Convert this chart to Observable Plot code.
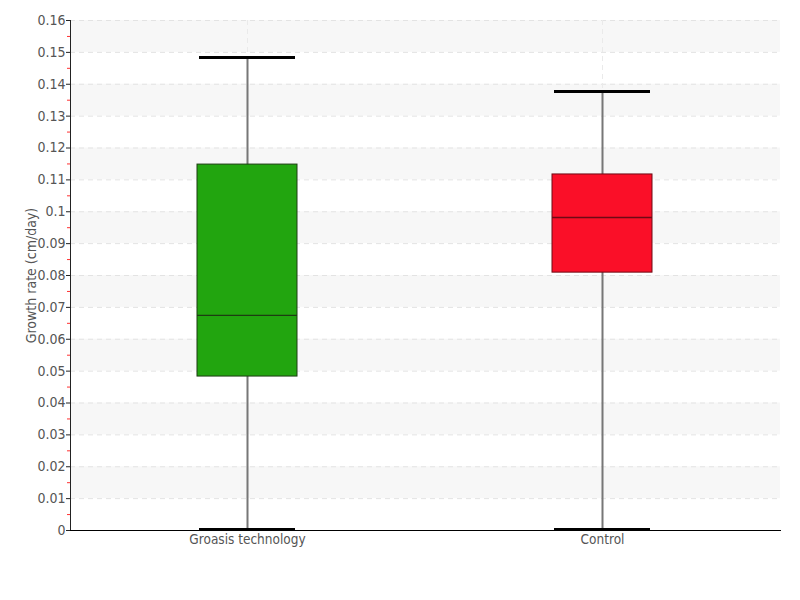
<!DOCTYPE html>
<html>
<head>
<meta charset="utf-8">
<script src="https://cdn.jsdelivr.net/npm/d3@7"></script>
<script src="https://cdn.jsdelivr.net/npm/@observablehq/plot@0.6"></script>
<style>
  html, body { margin: 0; padding: 0; background: #fff; }
  #chart svg { font-family: "DejaVu Sans Condensed", "Liberation Sans Narrow", sans-serif; }
</style>
</head>
<body>
<div id="chart"></div>
<script>
const groups = ["Groasis technology", "Control"];
const whiskerLow = [0.0003, 0.0003];
const q1 = [0.0483, 0.0809];
const median = [0.0675, 0.0982];
const q3 = [0.1148, 0.1117];
const whiskerHigh = [0.1484, 0.1377];
const fills = ["#22a50f", "#fa0f28"];
const outlines = ["#1d3d12", "#6e0a14"];
const yTicks = [0, 0.01, 0.02, 0.03, 0.04, 0.05, 0.06, 0.07, 0.08, 0.09, 0.1, 0.11, 0.12, 0.13, 0.14, 0.15, 0.16];
const yMinorTicks = [0.005, 0.015, 0.025, 0.035, 0.045, 0.055, 0.065, 0.075, 0.085, 0.095, 0.105, 0.115, 0.125, 0.135, 0.145, 0.155];

const data = groups.map((g, i) => ({
  group: g, low: whiskerLow[i], q1: q1[i], median: median[i], q3: q3[i], high: whiskerHigh[i],
  fill: fills[i], outline: outlines[i]
}));
// alternating shaded bands: [0.01,0.02], [0.03,0.04], ...
const bands = [];
for (let i = 1; i + 1 < yTicks.length; i += 2) bands.push({y1: yTicks[i], y2: yTicks[i + 1]});

const chart = Plot.plot({
  width: 800,
  height: 600,
  marginLeft: 70,
  marginRight: 20,
  marginTop: 20,
  marginBottom: 70,
  x: {domain: groups, paddingInner: 0.718, paddingOuter: 0.359, label: null},
  y: {domain: [0, 0.16], label: null},
  style: {fontSize: "13px", color: "#555"},
  marks: [
    Plot.rectY(bands, {y1: "y1", y2: "y2", fill: "#f7f7f7"}),
    Plot.ruleY(yTicks.slice(1), {stroke: "#e3e3e3", strokeDasharray: "5,4"}),
    Plot.ruleX(groups, {x: d => d, stroke: "#eaeaea", strokeDasharray: "5,4"}),
    Plot.axisY(yMinorTicks, {tickSize: 3, stroke: "#ff3030", strokeOpacity: 1, tickFormat: () => "", label: null}),
    Plot.axisY(yTicks, {
      tickSize: 4, stroke: "#222", tickPadding: 1, fill: "#555", fontSize: 14,
      tickFormat: d => String(+d.toFixed(2)),
      label: "Growth rate (cm/day)", labelAnchor: "center", labelArrow: "none", labelOffset: 44
    }),
    Plot.ruleY(yTicks, {x1: 0, x2: 2, stroke: "#222", clip: false}),
    Plot.axisX({tickSize: 0, tickPadding: 4, fill: "#555", fontSize: 13.5, label: null}),
    Plot.frame({anchor: "left", stroke: "#222"}),
    Plot.frame({anchor: "bottom", stroke: "#000"}),
    Plot.ruleX(data, {x: "group", y1: "low", y2: "high", stroke: "#777", strokeWidth: 2}),
    Plot.barY(data, {x: "group", y1: "q1", y2: "q3", fill: "fill", stroke: "outline", strokeWidth: 1}),
    Plot.tickY(data, {x: "group", y: "median", stroke: "outline", strokeWidth: 1.3}),
    Plot.tickY(data, {x: "group", y: "high", stroke: "#000", strokeWidth: 3, insetLeft: 2, insetRight: 2}),
    Plot.tickY(data, {x: "group", y: "low", stroke: "#000", strokeWidth: 3, insetLeft: 2, insetRight: 2})
  ]
});
document.getElementById("chart").appendChild(chart);
</script>
</body>
</html>
